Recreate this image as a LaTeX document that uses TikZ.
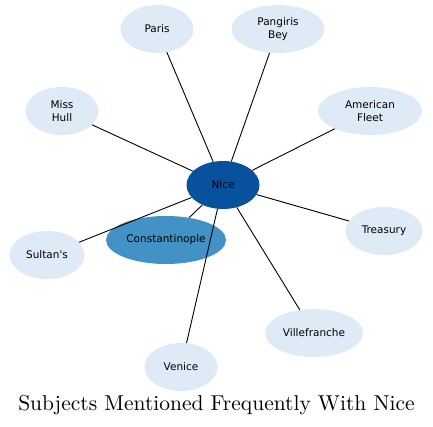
\documentclass[tikz,border=0pt]{standalone}
\usepackage{fontspec}
\newfontfamily\nodefont{DejaVu Sans}
\newfontfamily\titlefont{lmroman10-regular}[Extension=.otf]
\usetikzlibrary{shapes.geometric}
\definecolor{hub}{HTML}{08519C}
\definecolor{mid}{HTML}{4292C6}
\definecolor{leaf}{HTML}{DEEBF7}
\tikzset{
  bubble/.style={ellipse, draw=none, inner sep=0pt, minimum height=48pt, align=center,
    font=\nodefont\fontsize{10.5}{12.3}\selectfont, text=black},
  leafnode/.style={bubble, fill=leaf},
  link/.style={draw=black, line width=0.9pt}
}
\begin{document}
\begin{tikzpicture}[x=1pt,y=-1pt]
\useasboundingbox (0,0) rectangle (433,427);
\node[bubble, fill=hub, minimum width=73pt] (nice) at (223,185) {Nice};
\node[bubble, fill=mid, minimum width=120pt] (const) at (166,240) {Constantinople};
\node[leafnode, minimum width=73pt] (paris) at (157,29) {Paris};
\node[leafnode, minimum width=93pt] (bey) at (278,29) {Pangiris\\Bey};
\node[leafnode, minimum width=73pt] (hull) at (62,111) {Miss\\Hull};
\node[leafnode, minimum width=104pt] (fleet) at (370,111) {American\\Fleet};
\node[leafnode, minimum width=77pt] (treas) at (384,231) {Treasury};
\node[leafnode, minimum width=75pt] (sultan) at (47,255) {Sultan's};
\node[leafnode, minimum width=98pt] (ville) at (314,333) {Villefranche};
\node[leafnode, minimum width=73pt] (venice) at (181,367) {Venice};
\foreach \t in {const,paris,bey,hull,fleet,treas,sultan,ville,venice}
  \draw[link] (nice) -- (\t);
\node[font=\titlefont\fontsize{21.5}{25}\selectfont, inner sep=0pt] (title) at (216.5,405) {Subjects Mentioned Frequently With Nice};
\end{tikzpicture}
\end{document}
